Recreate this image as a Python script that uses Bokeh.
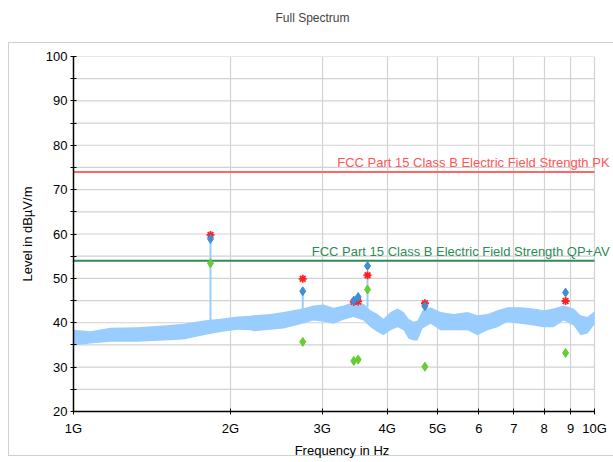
from bokeh.plotting import figure
from bokeh.models import Label, FixedTicker, Range1d, Title
from bokeh.embed import file_html
from bokeh.resources import INLINE

# Spectrum trace envelope (frequency in GHz, level in dBuV/m)
trace_f = [1.000, 1.078, 1.178, 1.327, 1.488, 1.626, 1.776, 1.915, 2.064, 2.186,
           2.215, 2.388, 2.530, 2.751, 2.888, 3.018, 3.155, 3.298, 3.446, 3.602,
           3.717, 3.833, 3.936, 4.060, 4.188, 4.300, 4.396, 4.494, 4.574, 4.676,
           4.844, 5.063, 5.363, 5.704, 5.962, 6.232, 6.513, 6.808, 7.211, 7.637,
           7.982, 8.343, 8.721, 9.114, 9.400, 9.696, 9.956, 10.000]
trace_lo = [34.9, 35.3, 35.7, 35.7, 36.0, 36.2, 37.2, 37.9, 38.4, 38.3,
            38.1, 38.4, 38.7, 39.8, 40.5, 40.2, 39.8, 40.7, 41.3, 40.5,
            39.0, 37.9, 37.2, 38.3, 39.0, 38.3, 36.4, 36.0, 36.0, 38.7,
            39.8, 38.3, 38.3, 38.3, 37.2, 38.3, 39.0, 40.2, 39.8, 39.4,
            39.0, 39.0, 40.5, 39.4, 37.2, 37.6, 39.4, 39.4]
trace_hi = [38.4, 38.1, 38.9, 39.0, 39.4, 39.8, 40.5, 40.9, 41.4, 41.6,
            41.7, 42.0, 42.4, 43.2, 43.9, 44.1, 43.4, 43.9, 44.7, 44.3,
            42.8, 42.0, 40.9, 42.4, 43.2, 42.4, 40.9, 40.2, 40.5, 42.8,
            43.5, 42.4, 42.0, 42.4, 41.7, 42.0, 42.8, 43.5, 43.5, 43.2,
            42.8, 43.2, 43.9, 43.2, 41.7, 41.3, 42.4, 42.4]

# Spikes in the trace
spike_f = [1.832, 2.754, 3.667]
spike_base = [40.0, 42.5, 43.5]
spike_top = [58.9, 47.1, 50.7]

# Final measurement points
peak_f = [1.832, 2.754, 3.451, 3.518, 3.667, 4.725, 8.797]
peak_red = [59.8, 49.9, 44.7, 44.8, 50.7, 44.4, 44.9]
peak_blue = [58.9, 47.1, 45.0, 45.8, 52.8, 43.7, 46.8]
peak_green = [53.4, 35.7, 31.4, 31.7, 47.5, 30.1, 33.2]

# Limits
limit_pk = 74
limit_av = 54
limit_pk_label = "FCC Part 15 Class B Electric Field Strength PK"
limit_av_label = "FCC Part 15 Class B Electric Field Strength QP+AV"

chart_title = "Full Spectrum"
f_start = 1
f_stop = 10
x_ticks = [1, 2, 3, 4, 5, 6, 7, 8, 9, 10]
x_tick_labels = ["1G", "2G", "3G", "4G", "5G", "6", "7", "8", "9", "10G"]
y_ticks = [20, 30, 40, 50, 60, 70, 80, 90, 100]
y_minor = [25, 35, 45, 55, 65, 75, 85, 95]

FONT = "Liberation Sans"
BORDER = "#d0d0d0"

p = figure(width=613, height=462, x_axis_type="log",
           x_range=Range1d(1, 10.73), y_range=Range1d(20, 100),
           output_backend="svg", toolbar_location=None, title_location=None,
           min_border_left=73, min_border_right=3,
           min_border_bottom=51, min_border_top=56)

# spacer between frame and title, then the title further out
p.add_layout(Title(text=" ", text_font=FONT, text_font_size="12px", standoff=12), "above")
p.add_layout(Title(text=chart_title, align="left", offset=202, vertical_align="bottom",
                   text_font=FONT, text_font_size="12px", text_font_style="normal",
                   standoff=8), "above")

p.outline_line_color = None
p.border_fill_color = None
p.styles = {
    "background": (
        f"linear-gradient({BORDER},{BORDER}) 8px 42px / 1px 414px no-repeat, "
        f"linear-gradient({BORDER},{BORDER}) 8px 42px / 605px 1px no-repeat, "
        f"linear-gradient({BORDER},{BORDER}) 8px 455px / 605px 1px no-repeat, white"
    )
}

# axes
p.xaxis.ticker = FixedTicker(ticks=x_ticks, minor_ticks=[])
p.xaxis.bounds = (f_start, f_stop)
p.xaxis.major_label_overrides = {t: l for t, l in zip(x_ticks, x_tick_labels)}
p.yaxis.ticker = FixedTicker(ticks=y_ticks, minor_ticks=y_minor)
for ax in (p.xaxis, p.yaxis):
    ax.axis_line_color = "black"
    ax.axis_line_width = 1.5
    ax.major_tick_line_color = "black"
    ax.minor_tick_line_color = "black"
    ax.major_tick_in = 3
    ax.major_tick_out = 3
    ax.minor_tick_in = 3
    ax.minor_tick_out = 3
    ax.major_label_text_font = FONT
    ax.major_label_text_font_size = "13px"
    ax.major_label_text_color = "black"
    ax.axis_label_text_font = FONT
    ax.axis_label_text_font_size = "13px"
    ax.axis_label_text_font_style = "normal"
    ax.axis_label_text_color = "black"
p.xaxis.axis_label = "Frequency in Hz"
p.yaxis.axis_label = "Level in dBµV/m"
p.xaxis.major_label_standoff = 6
p.xaxis.axis_label_standoff = 4
p.yaxis.major_label_standoff = 3
p.yaxis.axis_label_standoff = 8

# grids
p.xgrid.ticker = FixedTicker(ticks=x_ticks)
p.xgrid.grid_line_color = "#d2d2d2"
p.xgrid.grid_line_width = 1.2
p.ygrid.visible = False
grid_levels = y_ticks + y_minor
p.segment(x0=[f_start] * len(grid_levels), y0=grid_levels,
          x1=[f_stop] * len(grid_levels), y1=grid_levels,
          line_color="#d2d2d2", line_width=1.2)

# trace
p.varea(x=trace_f, y1=trace_lo, y2=trace_hi, fill_color="#99ccff", fill_alpha=1)
p.segment(x0=spike_f, y0=spike_base, x1=spike_f, y1=spike_top,
          line_color="#99ccff", line_width=2)

# limit lines
p.segment(x0=[f_start], y0=[limit_pk], x1=[f_stop], y1=[limit_pk],
          line_color="#ff6666", line_width=2)
p.segment(x0=[f_start], y0=[limit_av], x1=[f_stop], y1=[limit_av],
          line_color="#2e8b57", line_width=2)
p.add_layout(Label(x=f_stop, y=limit_pk, text=limit_pk_label, text_align="right",
                   text_baseline="bottom", x_offset=15, y_offset=2,
                   text_font=FONT, text_font_size="13px", text_color="#ff5555"))
p.add_layout(Label(x=f_stop, y=limit_av, text=limit_av_label, text_align="right",
                   text_baseline="bottom", x_offset=15, y_offset=2,
                   text_font=FONT, text_font_size="13px", text_color="#2e8b57"))

# markers
p.scatter(peak_f, peak_red, marker="asterisk", size=8, line_color="#ff2222", line_width=1.8)
p.scatter(peak_f, peak_blue, marker="diamond", size=9, fill_color="#3d8fdc", line_color="#3d8fdc")
p.scatter(peak_f, peak_green, marker="diamond", size=9, fill_color="#66cc33", line_color="#66cc33")

open("out.html", "w").write(file_html(p, INLINE))
